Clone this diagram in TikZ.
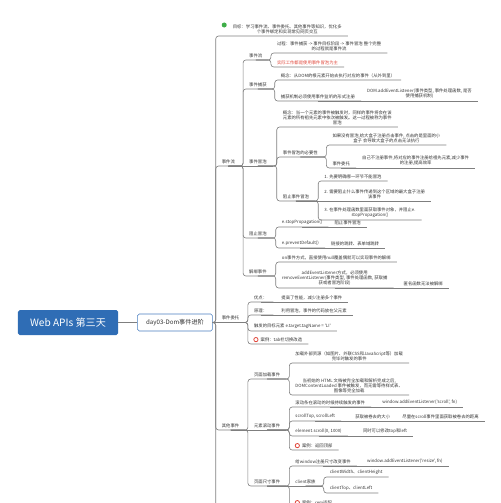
\documentclass[tikz,border=0pt]{standalone}
\usepackage{fontspec}
\newfontfamily\cjkfont{Noto Sans CJK SC}
\usepackage{xcolor}
\usepackage{tikz}
\usetikzlibrary{positioning,calc}

\definecolor{rootblue}{HTML}{2F6DB5}
\definecolor{dayblue}{HTML}{4A7EC0}
\definecolor{linegray}{HTML}{7F7F7F}
\definecolor{txt}{HTML}{333333}
\definecolor{casered}{HTML}{E0463A}
\definecolor{goalgreen}{HTML}{3FAE49}

\begin{document}
\begin{tikzpicture}[x=0.04cm, y=-0.04cm,
    rootbox/.style={rectangle, rounded corners=2pt, fill=rootblue, text=white, minimum width=4cm, minimum height=1cm, font=\cjkfont\fontsize{11.5}{13}\selectfont},
    daybox/.style={rectangle, rounded corners=2pt, draw=dayblue, line width=0.6pt, fill=white, text=txt, minimum width=3cm, minimum height=0.68cm, font=\cjkfont\fontsize{7}{8}\selectfont},
    topic/.style={anchor=south west, inner xsep=6.8pt, inner ysep=2.5pt, align=center, text=txt, font=\cjkfont\fontsize{4.95}{5.7}\selectfont},
    link/.style={draw=linegray, line width=0.7pt, rounded corners=3.2pt},
    elbowlink/.style={to path={-| (\tikztotarget.south west) -- (\tikztotarget.south east)}},
    flatlink/.style={to path={-- (\tikztotarget.south east)}},
    gdot/.style={circle, fill=goalgreen, inner sep=0pt, minimum size=0.2cm},
    ico/.style={circle, draw=casered, line width=0.9pt, fill=white, inner sep=0pt, minimum size=0.17cm}
]
\useasboundingbox (0,0) rectangle (500,503);
\clip (0,0) rectangle (500,503);

% Centre
\node[rootbox] (root) at (68,322.5) {Web APIs 第三天};
\node[daybox, right=0.76cm of root] (day) {day03-Dom事件进阶};
\draw[link] (root) -- (day);

% Level one
\node[topic] (goal) at ([shift={(14,-286.5)}]day.east) {目标：学习事件流、事件委托、其他事件等知识，优化多\\个事件绑定和实现常见网页交互};
\node[gdot] (gdot) at ([shift={(-2.5,-11)}]goal.south west) {};
\node[topic] (flow) at ([shift={(3,-156.5)}]day.east) {事件流};
\node[topic] (deleg) at ([shift={(3,0)}]day.east) {事件委托};
\node[topic] (other) at ([shift={(3,107.5)}]day.east) {其他事件};
\coordinate (more) at ([shift={(3,200)}]day.east);

\draw[link] (day.east) -| ([shift={(-11,0)}]goal.south west) -- (goal.south east);
\draw[link] (day.east) to[elbowlink] (flow);
\draw[link] (day.east) to[flatlink] (deleg);
\draw[link] (day.east) to[elbowlink] (other);
\draw[link] (day.east) -| (more);

% Event flow
\node[topic] (flowsub) at ([shift={(2,-106)}]flow.south east) {事件流};
\node[topic] (capture) at ([shift={(2,-77)}]flow.south east) {事件捕获};
\node[topic] (bubble) at ([shift={(2,0)}]flow.south east) {事件冒泡};
\node[topic] (stop) at ([shift={(2,72)}]flow.south east) {阻止冒泡};
\node[topic] (unbind) at ([shift={(2,110)}]flow.south east) {解绑事件};

\draw[link] (flow.south) to[elbowlink] (flowsub);
\draw[link] (flow.south) to[elbowlink] (capture);
\draw[link] (flow.south) to[flatlink] (bubble);
\draw[link] (flow.south) to[elbowlink] (stop);
\draw[link] (flow.south) to[elbowlink] (unbind);

\node[topic] (proc) at ([shift={(2.5,-7)}]flowsub.south east) {过程：事件捕获 -> 事件目标阶段 -> 事件冒泡 整个完整\\的过程就是事件流};
\node[topic, text=casered] (real) at ([shift={(2.5,7)}]flowsub.south east) {实际工作都是使用事件冒泡为主};
\draw[link] (flowsub.south) to[elbowlink] (proc);
\draw[link] (flowsub.south) to[elbowlink] (real);

\node[topic] (capc) at ([shift={(2,-9)}]capture.south east) {概念：从DOM的根元素开始去执行对应的事件（从外到里）};
\node[topic] (capm) at ([shift={(2,12)}]capture.south east) {捕获机制必须使用事件监听的形式注册};
\node[topic] (capd) at (capm.south east) {DOM.addEventListener(事件类型, 事件处理函数, 是否\\使用捕获机制)};
\draw[link] (capture.south) to[elbowlink] (capc);
\draw[link] (capture.south) to[elbowlink] (capm);
\draw[link] (capm.south) to[flatlink] (capd);

\node[topic] (bconc) at ([shift={(4,-39)}]bubble.south east) {概念：当一个元素的事件被触发时，同样的事件将会在该\\元素的所有祖先元素中依次被触发。这一过程被称为事件\\冒泡};
\node[topic] (need) at ([shift={(4,-9)}]bubble.south east) {事件冒泡的必要性};
\node[topic] (stopb) at ([shift={(4,35)}]bubble.south east) {阻止事件冒泡};
\draw[link] (bubble.south) to[elbowlink] (bconc);
\draw[link] (bubble.south) to[elbowlink] (need);
\draw[link] (bubble.south) to[elbowlink] (stopb);

\node[topic] (needa) at ([shift={(2.5,-12)}]need.south east) {如果没有冒泡,给大盒子注册点击事件, 点击的是里面的小\\盒子 会导致大盒子的点击无法执行};
\node[topic] (needb) at ([shift={(2.5,11)}]need.south east) {事件委托};
\node[topic] (needbd) at (needb.south east) {自己不注册事件,将对应的事件注册给祖先元素,减少事件\\的注册,提高效率};
\draw[link] (need.south) to[elbowlink] (needa);
\draw[link] (need.south) to[elbowlink] (needb);
\draw[link] (needb.south) to[flatlink] (needbd);

\node[topic] (sone) at ([shift={(3,-20)}]stopb.south east) {1. 先要明确哪一环节不能冒泡};
\node[topic] (stwo) at ([shift={(3,0)}]stopb.south east) {2. 需要阻止什么事件传递到这个区域的最大盒子注册\\该事件};
\node[topic] (sthree) at ([shift={(3,19)}]stopb.south east) {3. 在事件处理函数里面获取事件对象，并阻止e.\\stopPropagation()};
\draw[link] (stopb.south) to[elbowlink] (sone);
\draw[link] (stopb.south) to[flatlink] (stwo);
\draw[link] (stopb.south) to[elbowlink] (sthree);

\node[topic] (esp) at ([shift={(3,-11)}]stop.south east) {e.stopPropagation()};
\node[topic] (espd) at (esp.south east) {阻止事件冒泡};
\node[topic] (epd) at ([shift={(3,10)}]stop.south east) {e.preventDefault()};
\node[topic] (epdd) at (epd.south east) {链接的跳转、表单域跳转};
\draw[link] (stop.south) to[elbowlink] (esp);
\draw[link] (stop.south) to[elbowlink] (epd);
\draw[link] (esp.south) to[flatlink] (espd);
\draw[link] (epd.south) to[flatlink] (epdd);

\node[topic] (ubone) at ([shift={(3,-14)}]unbind.south east) {on事件方式，直接使用null覆盖偶就可以实现事件的解绑};
\node[topic] (ubtwo) at ([shift={(3,12)}]unbind.south east) {addEventListener方式，必须使用\\removeEventListener(事件类型, 事件处理函数, 获取捕\\获或者冒泡阶段)};
\node[topic] (ubtwod) at ([shift={(4,0)}]ubtwo.south east) {匿名函数无法被解绑};
\draw[link] (unbind.south) to[elbowlink] (ubone);
\draw[link] (unbind.south) to[elbowlink] (ubtwo);
\draw[link] (ubtwo.south) to[flatlink] (ubtwod);

% Delegation
\node[topic] (adv) at ([shift={(2.5,-20.5)}]deleg.south east) {优点：};
\node[topic] (advd) at ([shift={(2,0)}]adv.south east) {提高了性能，减少注册多个事件};
\node[topic] (prin) at ([shift={(2.5,-7.5)}]deleg.south east) {原理：};
\node[topic] (prind) at ([shift={(2,0)}]prin.south east) {利用冒泡，事件的代码放在父元素};
\node[topic] (trig) at ([shift={(2.5,8.5)}]deleg.south east) {触发的目标元素 e.target.tagName = 'LI'};
\node[topic] (caseone) at ([shift={(2.5,21.5)}]deleg.south east) {\hspace*{7.5pt}案例：tab栏切换改造};
\node[ico] (caseonei) at ([shift={(8,0)}]caseone.west) {};
\draw[link] (deleg.south) to[elbowlink] (adv);
\draw[link] (deleg.south) to[elbowlink] (prin);
\draw[link] (deleg.south) to[elbowlink] (trig);
\draw[link] (deleg.south) to[elbowlink] (caseone);
\draw[link] (adv.south) to[flatlink] (advd);
\draw[link] (prin.south) to[flatlink] (prind);

% Other events
\node[topic] (load) at ([shift={(2.5,-51)}]other.south east) {页面加载事件};
\node[topic] (scroll) at ([shift={(2.5,0)}]other.south east) {元素滚动事件};
\node[topic] (size) at ([shift={(2.5,56)}]other.south east) {页面尺寸事件};
\draw[link] (other.south) to[elbowlink] (load);
\draw[link] (other.south) to[flatlink] (scroll);
\draw[link] (other.south) to[elbowlink] (size);

\node[topic] (loadone) at ([shift={(3,-16)}]load.south east) {加载外部资源（如图片、外联CSS和JavaScript等）加载\\完毕时触发的事件};
\node[topic] (loadtwo) at ([shift={(3,16)}]load.south east) {当初始的 HTML 文档被完全加载和解析完成之后,\\DOMContentLoaded 事件被触发，而无需等待样式表、\\图像等完全加载};
\draw[link] (load.south) to[elbowlink] (loadone);
\draw[link] (load.south) to[elbowlink] (loadtwo);

\node[topic] (scone) at ([shift={(3,-23)}]scroll.south east) {滚动条在滚动的时候持续触发的事件};
\node[topic] (sconed) at ([shift={(5,0)}]scone.south east) {window.addEventListener('scroll', fn)};
\node[topic] (sctwo) at ([shift={(3,-9)}]scroll.south east) {scrollTop, scrollLeft};
\node[topic] (sctwod) at ([shift={(8,0)}]sctwo.south east) {获取被卷去的大小};
\node[topic] (sctwodd) at (sctwod.south east) {尽量在scroll事件里面获取被卷去的距离};
\node[topic] (scthree) at ([shift={(3,6)}]scroll.south east) {element.scroll(0, 1000)};
\node[topic] (scthreed) at ([shift={(9,0)}]scthree.south east) {同时可以修改top和left};
\node[topic] (casetwo) at ([shift={(3,20)}]scroll.south east) {\hspace*{7.5pt}案例：返回顶部};
\node[ico] (casetwoi) at ([shift={(8,0)}]casetwo.west) {};
\draw[link] (scroll.south) to[elbowlink] (scone);
\draw[link] (scroll.south) to[elbowlink] (sctwo);
\draw[link] (scroll.south) to[elbowlink] (scthree);
\draw[link] (scroll.south) to[elbowlink] (casetwo);
\draw[link] (scone.south) to[flatlink] (sconed);
\draw[link] (sctwo.south) to[flatlink] (sctwod);
\draw[link] (sctwod.south) to[flatlink] (sctwodd);
\draw[link] (scthree.south) to[flatlink] (scthreed);

\node[topic] (szone) at ([shift={(3,-20)}]size.south east) {给window注册尺寸改变事件};
\node[topic] (szoned) at ([shift={(4,0)}]szone.south east) {window.addEventListener('resize', fn)};
\node[topic] (client) at ([shift={(3,0)}]size.south east) {client家族};
\node[topic] (cwidth) at ([shift={(2,-9)}]client.south east) {clientWidth、clientHeight};
\node[topic] (ctop) at ([shift={(2,7)}]client.south east) {clientTop、clientLeft};
\node[topic] (casethree) at ([shift={(3,21)}]size.south east) {\hspace*{7.5pt}案例：rem适配};
\node[ico] (casethreei) at ([shift={(8,0)}]casethree.west) {};
\draw[link] (size.south) to[elbowlink] (szone);
\draw[link] (size.south) to[flatlink] (client);
\draw[link] (size.south) to[elbowlink] (casethree);
\draw[link] (szone.south) to[flatlink] (szoned);
\draw[link] (client.south) to[elbowlink] (cwidth);
\draw[link] (client.south) to[elbowlink] (ctop);

\end{tikzpicture}
\end{document}
